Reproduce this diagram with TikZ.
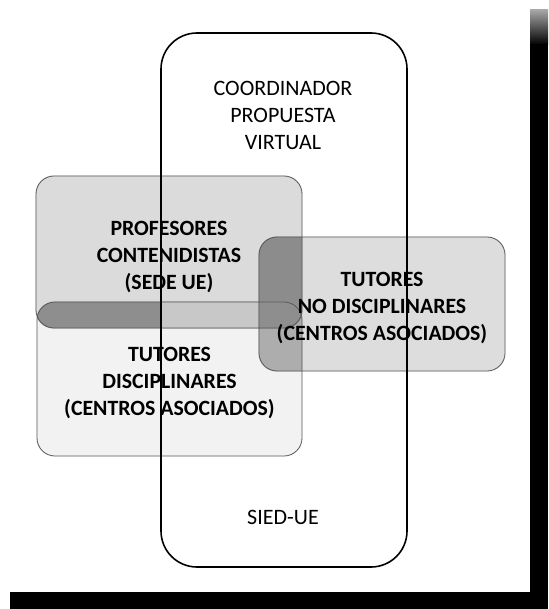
\documentclass[tikz,border=0pt]{standalone}
\usepackage{fontspec}
\setmainfont{Carlito}
\pgfdeclarelayer{bgbase}
\pgfdeclarelayer{background}
\pgfsetlayers{bgbase,background,main}
\definecolor{profgray}{HTML}{DBDBDB}
\definecolor{ndgray}{HTML}{DDDDDD}
\definecolor{tdgray}{HTML}{F2F2F2}
\definecolor{darkband}{HTML}{8E8E8E}
\definecolor{lightband}{HTML}{C8C8C8}
\definecolor{ndover}{HTML}{8C8C8C}
\definecolor{ndtd}{HTML}{ADADAD}
\tikzset{
  lbl/.style={align=center, text=black, font=\fontsize{22}{27}\selectfont},
  boxlbl/.style={align=center, text=black, font=\bfseries\fontsize{21.8}{27}\selectfont},
  vennbox/.style={draw=black!65, line width=0.8pt, rounded corners=18pt, inner sep=0pt},
  mainbox/.style={draw=black, line width=1.6pt, rounded corners=36pt, inner sep=0pt},
}
\begin{document}
\begin{tikzpicture}[x=1pt,y=-1pt]
\useasboundingbox (0,0) rectangle (548,609);
% boxes
\node[vennbox, minimum width=266pt, minimum height=152pt] (prof) at (169,252) {};
\node[vennbox, minimum width=246pt, minimum height=134pt] (nodisc) at (382,304) {};
\node[vennbox, minimum width=265pt, minimum height=154pt] (tdisc) at (169.5,379) {};
% labels
\node[boxlbl] (proflbl) at ([yshift=-5pt]prof.center) {PROFESORES\\CONTENIDISTAS\\(SEDE UE)};
\node[boxlbl] (nodisclbl) at ([yshift=-4pt]nodisc.center) {TUTORES\\NO DISCIPLINARES\\(CENTROS ASOCIADOS)};
\node[boxlbl] (tdisclbl) at ([yshift=-4pt]tdisc.center) {TUTORES\\DISCIPLINARES\\(CENTROS ASOCIADOS)};
\node[mainbox, minimum width=246pt, minimum height=534pt] (sied) at (284,300) {};
\node[lbl] (coord) at (283,115) {COORDINADOR\\PROPUESTA\\VIRTUAL};
\node[lbl] (siedlbl) at (283,517) {SIED-UE};
% fills
\begin{pgfonlayer}{bgbase}
  \fill[white] (0,0) rectangle (548,609);
  \shade[top color=black!35, bottom color=black] (530,10) rectangle (548,45);
  \fill[black] (530,44) rectangle (548,609);
  \fill[black] (10,592) rectangle (548,609);
\end{pgfonlayer}
\begin{pgfonlayer}{background}
  \fill[profgray, rounded corners=18pt] (prof.north west) rectangle (prof.south east);
  \fill[ndgray, rounded corners=18pt] (nodisc.north west) rectangle (nodisc.south east);
  \fill[tdgray, rounded corners=18pt] (tdisc.north west) rectangle (tdisc.south east);
  % nodisc & tdisc
  \begin{scope}
    \clip[rounded corners=18pt] (nodisc.north west) rectangle (nodisc.south east);
    \fill[ndtd, rounded corners=18pt] (tdisc.north west) rectangle (tdisc.south east);
  \end{scope}
  % prof & nodisc
  \begin{scope}
    \clip[rounded corners=18pt] (prof.north west) rectangle (prof.south east);
    \fill[ndover, rounded corners=18pt] (nodisc.north west) rectangle (nodisc.south east);
  \end{scope}
  % prof & tdisc band
  \begin{scope}
    \clip[rounded corners=18pt] (prof.north west) rectangle (prof.south east);
    \fill[darkband, rounded corners=18pt] (tdisc.north west) rectangle (tdisc.south east);
    \begin{scope}
      \clip[rounded corners=36pt] (sied.north west) rectangle (sied.south east);
      \clip (sied.west |- prof.south) rectangle (nodisc.west |- tdisc.north);
      \fill[lightband] (sied.west |- prof.south) rectangle (nodisc.west |- tdisc.north);
    \end{scope}
  \end{scope}
\end{pgfonlayer}
\end{tikzpicture}
\end{document}
